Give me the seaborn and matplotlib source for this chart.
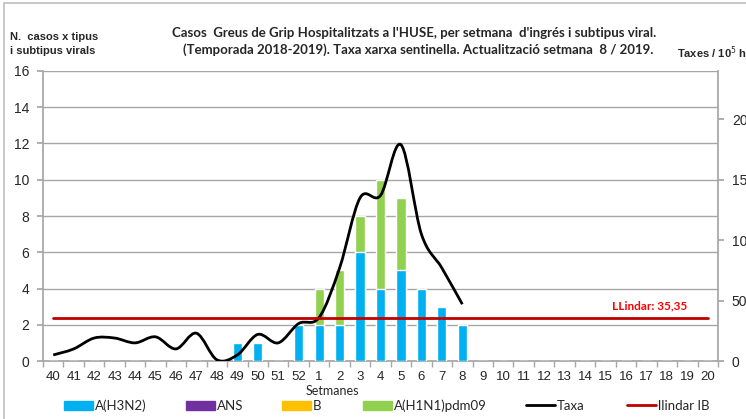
import numpy as np
import pandas as pd
import matplotlib
matplotlib.use("Agg")
import matplotlib.pyplot as plt
import seaborn as sns
from matplotlib.path import Path
from matplotlib.patches import PathPatch, Rectangle, Patch
from matplotlib.lines import Line2D

# ---- data ----
weeks = ["40", "41", "42", "43", "44", "45", "46", "47", "48", "49", "50", "51", "52",
         "1", "2", "3", "4", "5", "6", "7", "8", "9", "10", "11", "12", "13", "14",
         "15", "16", "17", "18", "19", "20"]
h3n2 = [0, 0, 0, 0, 0, 0, 0, 0, 0, 1, 1, 0, 2, 2, 2, 6, 4, 5, 4, 3, 2,
        0, 0, 0, 0, 0, 0, 0, 0, 0, 0, 0, 0]
h1n1 = [0, 0, 0, 0, 0, 0, 0, 0, 0, 0, 0, 0, 0, 2, 3, 2, 6, 4, 0, 0, 0,
        0, 0, 0, 0, 0, 0, 0, 0, 0, 0, 0, 0]
# rate per 100,000 (sentinel network), weeks 40 .. 8
taxa = [5, 10, 19, 19, 15, 20, 10, 23, 1, 5, 22, 15, 31,
        36, 77, 135, 137, 179, 105, 77, 47]
llindar = 35.35

BLUE = "#00B0F0"
GREEN = "#92D050"
PURPLE = "#7030A0"
ORANGE = "#FFC000"
RED = "#C00000"
GRID = "#A6A6A6"

sns.set_theme(style="white")
plt.rcParams["font.family"] = ["Liberation Sans", "DejaVu Sans"]
NARROW = ["Lato", "Liberation Sans", "DejaVu Sans"]

df = pd.DataFrame({"week": weeks, "h3n2": h3n2, "h1n1": h1n1})
df["total"] = df["h3n2"] + df["h1n1"]

fig = plt.figure(figsize=(7.46, 4.19), dpi=100)
ax = fig.add_axes([43 / 746, 1 - 361 / 419, 675 / 746, 290 / 419])

# stacked bars: total (green) behind, H3N2 (blue) in front
sns.barplot(data=df, x="week", y="total", order=weeks, color=GREEN,
            saturation=1, width=0.45, errorbar=None, ax=ax, zorder=2)
sns.barplot(data=df, x="week", y="h3n2", order=weeks, color=BLUE,
            saturation=1, width=0.45, errorbar=None, ax=ax, zorder=3)

ax.set_xlim(-0.5, len(weeks) - 0.5)
ax.set_ylim(0, 16)
ax.set_yticks(range(0, 17, 2))
ax.yaxis.grid(True, color=GRID, lw=1)
ax.set_axisbelow(True)
ax.set_xlabel("")
ax.set_ylabel("")
ax.tick_params(axis="y", labelsize=10, length=4, color=GRID, direction="out", left=True, pad=6)
ax.tick_params(axis="x", which="major", length=0, labelsize=9.5, pad=7)
ax.set_xticks(np.arange(-0.5, len(weeks), 1), minor=True)
ax.tick_params(axis="x", which="minor", length=4, color=GRID, bottom=True, direction="out")
for s in ["left", "bottom", "right"]:
    ax.spines[s].set_color(GRID)
ax.spines["top"].set_visible(False)

# right axis: rate
ax2 = ax.twinx()
ax2.set_ylim(0, 240)
ax2.set_yticks([0, 50, 100, 150, 200])
ax2.tick_params(axis="y", labelsize=10, length=4, color=GRID, direction="out", right=True, pad=6)
for s in ax2.spines.values():
    s.set_visible(False)
ax2.grid(False)

# smoothed rate line (Excel-style Catmull-Rom drawn as cubic Bezier)
xs = np.arange(len(taxa), dtype=float)
ys = np.array(taxa, dtype=float)
verts = [(xs[0], ys[0])]
codes = [Path.MOVETO]
n = len(xs)
for i in range(n - 1):
    p0 = np.array([xs[max(i - 1, 0)], ys[max(i - 1, 0)]])
    p1 = np.array([xs[i], ys[i]])
    p2 = np.array([xs[i + 1], ys[i + 1]])
    p3 = np.array([xs[min(i + 2, n - 1)], ys[min(i + 2, n - 1)]])
    c1 = p1 + (p2 - p0) / 6
    c2 = p2 - (p3 - p1) / 6
    verts += [tuple(c1), tuple(c2), tuple(p2)]
    codes += [Path.CURVE4] * 3
ax2.add_patch(PathPatch(Path(verts, codes), fill=False, edgecolor="black", lw=2, zorder=4))

# threshold
ax2.plot([0, len(weeks) - 1], [llindar, llindar], color=RED, lw=2, zorder=5)
ax2.text(31.0, llindar + 6, "LLindar: 35,35", color="#FF0000", fontsize=8.5,
         fontweight="bold", ha="right", va="bottom", family=NARROW)

# texts
fig.text(0.555, 0.922, "Casos  Greus de Grip Hospitalitzats a l'HUSE, per setmana  d'ingrés i subtipus viral.",
         ha="center", va="center", fontsize=9.5, fontweight="bold", family=NARROW)
fig.text(0.560, 0.882, "(Temporada 2018-2019). Taxa xarxa sentinella. Actualització setmana  8 / 2019.",
         ha="center", va="center", fontsize=9.5, fontweight="bold", family=NARROW)
fig.text(10 / 746, 1 - 37 / 419, "N.  casos x tipus", ha="left", va="center",
         fontsize=8, fontweight="bold")
fig.text(10 / 746, 1 - 51 / 419, "i subtipus virals", ha="left", va="center",
         fontsize=8, fontweight="bold")
fig.text(677 / 746, 1 - 53 / 419, "Taxes / 10$^5$ h", ha="left", va="center",
         fontsize=8, fontweight="bold")
fig.text(332 / 746, 1 - 391 / 419, "Setmanes", ha="center", va="center",
         fontsize=9, family=NARROW)

# legend, one entry per position as in the reference
handles = [
    Patch(color=BLUE, label="A(H3N2)"),
    Patch(color=PURPLE, label="ANS"),
    Patch(color=ORANGE, label="B"),
    Patch(color=GREEN, label="A(H1N1)pdm09"),
    Line2D([], [], color="black", lw=2, label="Taxa"),
    Line2D([], [], color=RED, lw=2, label="llindar IB"),
]
leg_x = [64, 186, 282, 363, 526, 627]
for h, x in zip(handles, leg_x):
    fig.legend(handles=[h], loc="center left", bbox_to_anchor=(x / 746, 1 - 406 / 419),
               frameon=False, handlelength=2.2, handleheight=0.7, handletextpad=0.15,
               borderpad=0, borderaxespad=0, prop={"family": NARROW, "size": 9.5})

# outer chart frame
fig.patches.append(Rectangle((4 / 746, -0.05), 1.2, 1.05 - 3 / 419, transform=fig.transFigure,
                             fill=False, edgecolor="#BFBFBF", lw=1.2, zorder=0))

fig.savefig("out.png", dpi=100)
